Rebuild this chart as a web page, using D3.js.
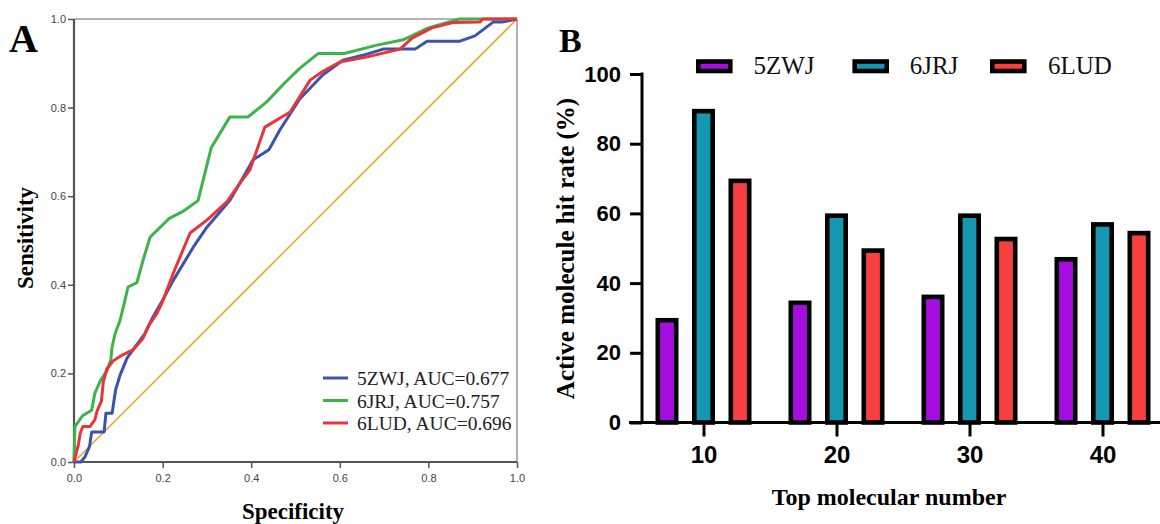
<!DOCTYPE html>
<html><head><meta charset="utf-8">
<script src="https://cdn.jsdelivr.net/npm/d3@7"></script>
<style>body{margin:0;background:#fff}svg{display:block}</style>
</head><body>
<script>
// ---------- Panel A data (ROC curves) ----------
const rocNames = ["5ZWJ, AUC=0.677", "6JRJ, AUC=0.757", "6LUD, AUC=0.696"];
const roc5ZWJ = [[0,0],[0.015,0],[0.025,0.012],[0.035,0.035],[0.04,0.068],[0.068,0.068],[0.072,0.11],[0.086,0.11],[0.094,0.163],[0.104,0.196],[0.12,0.235],[0.138,0.26],[0.16,0.29],[0.178,0.327],[0.2,0.365],[0.224,0.41],[0.27,0.486],[0.30,0.53],[0.352,0.591],[0.382,0.643],[0.404,0.682],[0.44,0.705],[0.465,0.75],[0.51,0.82],[0.562,0.874],[0.607,0.907],[0.652,0.918],[0.698,0.932],[0.77,0.932],[0.797,0.95],[0.871,0.95],[0.905,0.962],[0.946,0.993],[0.966,0.993],[1,1]];
const roc6JRJ = [[0,0],[0.002,0.08],[0.02,0.105],[0.04,0.117],[0.047,0.155],[0.06,0.185],[0.074,0.205],[0.083,0.23],[0.086,0.26],[0.093,0.29],[0.104,0.32],[0.115,0.365],[0.122,0.395],[0.142,0.405],[0.156,0.456],[0.172,0.508],[0.215,0.55],[0.245,0.565],[0.28,0.59],[0.31,0.71],[0.352,0.779],[0.393,0.779],[0.435,0.813],[0.476,0.856],[0.51,0.889],[0.551,0.922],[0.61,0.922],[0.684,0.941],[0.743,0.953],[0.80,0.98],[0.87,1.0],[1,1]];
const roc6LUD = [[0,0],[0.01,0.04],[0.014,0.065],[0.02,0.08],[0.036,0.08],[0.047,0.095],[0.052,0.115],[0.062,0.138],[0.066,0.18],[0.074,0.21],[0.088,0.228],[0.11,0.242],[0.133,0.253],[0.155,0.278],[0.17,0.31],[0.187,0.335],[0.2,0.362],[0.224,0.426],[0.262,0.517],[0.30,0.546],[0.345,0.587],[0.375,0.63],[0.397,0.659],[0.431,0.756],[0.488,0.79],[0.533,0.862],[0.562,0.882],[0.60,0.903],[0.66,0.914],[0.736,0.932],[0.763,0.957],[0.808,0.98],[0.855,0.992],[0.916,0.993],[0.923,1],[1,1]];
const rocRef = [[0,0],[1,1]];
const rocTicks = [0, 0.2, 0.4, 0.6, 0.8, 1.0];

// ---------- Panel B data (bar chart) ----------
const groups = [10, 20, 30, 40];
const seriesNames = ["5ZWJ", "6JRJ", "6LUD"];
const hit5ZWJ = [30, 35, 36.7, 47.5];
const hit6JRJ = [90, 60, 60, 57.5];
const hit6LUD = [70, 50, 53.3, 55];
const hitTicks = [0, 20, 40, 60, 80, 100];

const W = 1160, H = 524;
const svg = d3.select("body").append("svg").attr("width", W).attr("height", H);
const serif = "'Liberation Serif','Times New Roman',serif";
const sans = "'Liberation Sans',Arial,sans-serif";

// ================= Panel A =================
const A = svg.append("g");
const xA = d3.scaleLinear().domain([0, 1]).range([74, 517]);
const yA = d3.scaleLinear().domain([0, 1]).range([462, 19]);

A.append("line").attr("x1", xA(0)).attr("x2", xA(1)).attr("y1", yA(1)).attr("y2", yA(1))
  .attr("stroke", "#9a9a9a").attr("stroke-width", 1.5);
A.append("line").attr("x1", xA(1)).attr("x2", xA(1)).attr("y1", yA(1)).attr("y2", yA(0))
  .attr("stroke", "#9a9a9a").attr("stroke-width", 1.5);

const axAL = A.append("g").attr("transform", `translate(${xA(0)},0)`)
  .call(d3.axisLeft(yA).tickValues(rocTicks).tickFormat(d3.format(".1f")).tickSize(6).tickPadding(2));
const axAB = A.append("g").attr("transform", `translate(0,${yA(0)})`)
  .call(d3.axisBottom(xA).tickValues(rocTicks).tickFormat(d3.format(".1f")).tickSize(6).tickPadding(6));
[axAL, axAB].forEach(g => {
  g.select(".domain").remove();
  g.selectAll(".tick line").attr("stroke", "#555").attr("stroke-width", 1.5);
  g.selectAll(".tick text").attr("fill", "#444").style("font-family", sans).style("font-size", "11px");
});
A.append("line").attr("x1", xA(0)).attr("x2", xA(0)).attr("y1", yA(1)).attr("y2", yA(0))
  .attr("stroke", "#555").attr("stroke-width", 2.2);
A.append("line").attr("x1", xA(0)).attr("x2", xA(1)).attr("y1", yA(0)).attr("y2", yA(0))
  .attr("stroke", "#555").attr("stroke-width", 2.2);

const lineA = d3.line().x(d => xA(d[0])).y(d => yA(d[1]));
A.append("path").attr("d", lineA(rocRef)).attr("fill", "none").attr("stroke", "#f2a33a").attr("stroke-width", 1.6);
const rocColors = ["#3c53aa", "#3db449", "#e8353c"];
const rocData = [roc5ZWJ, roc6JRJ, roc6LUD];
[1, 0, 2].forEach(i => {
  A.append("path").attr("d", lineA(rocData[i])).attr("fill", "none")
    .attr("stroke", rocColors[i]).attr("stroke-width", 3).attr("stroke-linejoin", "round");
});

rocNames.forEach((n, i) => {
  const yy = 378 + i * 22.5;
  A.append("line").attr("x1", 323).attr("x2", 348).attr("y1", yy).attr("y2", yy)
    .attr("stroke", rocColors[i]).attr("stroke-width", 3);
  A.append("text").attr("x", 357).attr("y", yy + 7).text(n)
    .style("font-family", serif).style("font-size", "19.5px").attr("fill", "#222");
});

A.append("text").attr("x", 9).attr("y", 52).text("A")
  .style("font-family", serif).style("font-size", "40px").style("font-weight", "bold");
A.append("text").attr("transform", `translate(33,238) rotate(-90)`).attr("text-anchor", "middle").text("Sensitivity")
  .style("font-family", serif).style("font-size", "23px").style("font-weight", "bold");
A.append("text").attr("x", 293).attr("y", 519).attr("text-anchor", "middle").text("Specificity")
  .style("font-family", serif).style("font-size", "23px").style("font-weight", "bold");

// ================= Panel B =================
const B = svg.append("g");
const yB = d3.scaleLinear().domain([0, 100]).range([422.5, 74]);
const xG = d3.scalePoint().domain(groups).range([703.5, 1102.5]);
const xS = d3.scalePoint().domain(seriesNames).range([-36.5, 36.5]);
const colorsB = ["#a60ee0", "#1597b2", "#f5403f"];
const hitData = [hit5ZWJ, hit6JRJ, hit6LUD];

const bw = 23, sw = 4.6;
seriesNames.forEach((s, si) => {
  B.selectAll(null).data(groups.map((g, gi) => ({ g, v: hitData[si][gi] }))).enter().append("rect")
    .attr("x", d => xG(d.g) + xS(s) - bw / 2 + sw / 2)
    .attr("y", d => yB(d.v) + sw / 2)
    .attr("width", bw - sw)
    .attr("height", d => yB(0) - yB(d.v) - sw / 2)
    .attr("fill", colorsB[si]).attr("stroke", "#000").attr("stroke-width", sw);
});

const axBL = B.append("g").attr("transform", "translate(642,0)")
  .call(d3.axisLeft(yB).tickValues(hitTicks).tickSize(12).tickPadding(9));
axBL.select(".domain").remove();
axBL.selectAll(".tick line").attr("stroke", "#000").attr("stroke-width", 3);
axBL.selectAll(".tick text").attr("fill", "#000").style("font-family", sans).style("font-size", "22px")
  .style("font-weight", "bold");
B.append("line").attr("x1", 642).attr("x2", 642).attr("y1", 72.5).attr("y2", 424)
  .attr("stroke", "#000").attr("stroke-width", 3);

const axBB = B.append("g").attr("transform", `translate(0,${yB(0)})`)
  .call(d3.axisBottom(xG).tickSize(14).tickPadding(9));
axBB.select(".domain").remove();
axBB.selectAll(".tick line").attr("stroke", "#000").attr("stroke-width", 3);
axBB.selectAll(".tick text").attr("fill", "#000").style("font-family", sans).style("font-size", "24px")
  .style("font-weight", "bold");
B.append("line").attr("x1", 629).attr("x2", 1160).attr("y1", yB(0)).attr("y2", yB(0))
  .attr("stroke", "#000").attr("stroke-width", 3);

const legX = [696, 852.4, 990];
const legTX = [753.5, 909.7, 1048];
seriesNames.forEach((s, i) => {
  B.append("rect").attr("x", legX[i] + 2.3).attr("y", 61.5).attr("width", 32).attr("height", 9.5)
    .attr("fill", colorsB[i]).attr("stroke", "#000").attr("stroke-width", 4.6);
  B.append("text").attr("x", legTX[i]).attr("y", 74).text(s)
    .style("font-family", serif).style("font-size", "25px").attr("fill", "#111");
});

B.append("text").attr("x", 559).attr("y", 52).text("B")
  .style("font-family", serif).style("font-size", "34px").style("font-weight", "bold");
B.append("text").attr("transform", `translate(574,248.5) rotate(-90)`).attr("text-anchor", "middle")
  .text("Active molecule hit rate (%)")
  .style("font-family", serif).style("font-size", "25px").style("font-weight", "bold");
B.append("text").attr("x", 889).attr("y", 505).attr("text-anchor", "middle")
  .text("Top molecular number")
  .style("font-family", serif).style("font-size", "24px").style("font-weight", "bold");
</script>
</body></html>
